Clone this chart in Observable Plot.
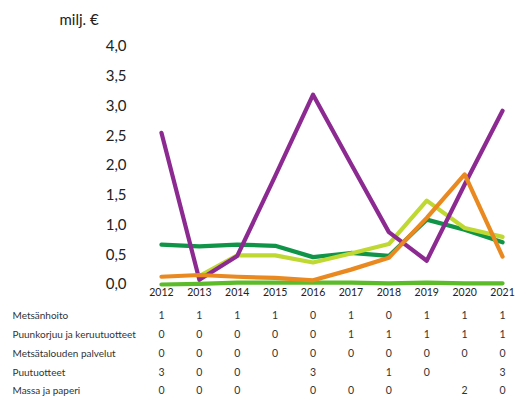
<!DOCTYPE html>
<html>
<head>
<meta charset="utf-8">
<script src="https://cdn.jsdelivr.net/npm/d3@7"></script>
<script src="https://cdn.jsdelivr.net/npm/@observablehq/plot@0.6"></script>
<style>
  body { margin: 0; background: #fff; }
  #chart svg { display: block; }
</style>
</head>
<body>
<div id="chart"></div>
<script>
const years = [2012, 2013, 2014, 2015, 2016, 2017, 2018, 2019, 2020, 2021];
const seriesNames = ["Metsänhoito", "Puunkorjuu ja keruutuotteet", "Metsätalouden palvelut", "Puutuotteet", "Massa ja paperi"];
const seriesColors = ["#0f9448", "#c0d832", "#5cbb29", "#8c2a92", "#e9891f"];

const metsanhoito = [0.67, 0.64, 0.67, 0.65, 0.46, 0.53, 0.48, 1.09, 0.92, 0.71];
const puunkorjuu = [null, 0.14, 0.49, 0.49, 0.37, 0.52, 0.68, 1.41, 0.95, 0.80];
const palvelut = [0.00, 0.01, 0.03, 0.03, 0.03, 0.03, 0.02, 0.03, 0.02, 0.02];
const puutuotteet = [2.55, 0.08, 0.48, 1.82, 3.19, 2.03, 0.88, 0.40, 1.68, 2.92];
const massa = [0.13, 0.16, 0.13, 0.11, 0.07, 0.25, 0.45, 1.12, 1.85, 0.47];

const tableMetsanhoito = ["1", "1", "1", "1", "0", "1", "0", "1", "1", "1"];
const tablePuunkorjuu = ["0", "0", "0", "0", "0", "1", "1", "1", "1", "1"];
const tablePalvelut = ["0", "0", "0", "0", "0", "0", "0", "0", "0", "0"];
const tablePuutuotteet = ["3", "0", "0", "", "3", "", "1", "0", "", "3"];
const tableMassa = ["0", "0", "0", "", "0", "0", "0", "", "2", "0"];

const yTicks = [0, 0.5, 1, 1.5, 2, 2.5, 3, 3.5, 4];
const unitLabel = "milj. €";

const allValues = [metsanhoito, puunkorjuu, palvelut, puutuotteet, massa];
const allTable = [tableMetsanhoito, tablePuunkorjuu, tablePalvelut, tablePuutuotteet, tableMassa];

const lineData = [];
seriesNames.forEach((s, i) => years.forEach((y, j) => lineData.push({series: s, year: y, value: allValues[i][j]})));

const rowDy = [31, 50, 69, 88, 106];
const tableData = [];
seriesNames.forEach((s, i) => years.forEach((y, j) => tableData.push({row: i, year: y, text: allTable[i][j]})));
const rowLabels = seriesNames.map((s, i) => ({row: i, text: s}));

const fmt = d => d.toFixed(1).replace(".", ",");
const font = "Lato, 'Open Sans', sans-serif";

const marks = [
  Plot.gridY(yTicks, {stroke: "#d9d9d9", strokeOpacity: 1, strokeWidth: 1.5, x1: 142, x2: 515}),
  Plot.axisY(yTicks, {tickSize: 0, tickPadding: 16, tickFormat: fmt, fontSize: 15, label: null, fill: "#222"}),
  Plot.axisX(years, {tickSize: 0, tickPadding: 4, fontSize: 10.5, label: null, tickFormat: d => String(d), fill: "#222"}),
];
seriesNames.forEach((s, i) => {
  marks.push(Plot.line(lineData.filter(d => d.series === s), {
    x: "year", y: "value", stroke: seriesColors[i], strokeWidth: 4.2,
    defined: d => d.value != null, curve: "linear"
  }));
});
rowDy.forEach((dy, i) => {
  marks.push(Plot.text(tableData.filter(d => d.row === i), {
    x: "year", y: () => 0, text: "text", dy: dy, fontSize: 10.5, fill: "#333", lineAnchor: "middle"
  }));
  marks.push(Plot.text([rowLabels[i]], {
    frameAnchor: "bottom-left", text: "text", dx: -130, dy: dy, fontSize: 10, fill: "#333",
    textAnchor: "start", lineAnchor: "middle"
  }));
});
marks.push(Plot.text([unitLabel], {frameAnchor: "top-left", text: d => d, dx: -83, dy: -26, fontSize: 15, fill: "#222", textAnchor: "start", lineAnchor: "middle"}));

const chart = Plot.plot({
  width: 515,
  height: 399,
  marginLeft: 142,
  marginRight: -6,
  marginTop: 46,
  marginBottom: 115,
  style: {fontFamily: font, background: "#fff", overflow: "visible"},
  x: {type: "point", domain: years, padding: 0.5, round: false},
  y: {domain: [0, 4]},
  marks
});
document.getElementById("chart").append(chart);
</script>
</body>
</html>
